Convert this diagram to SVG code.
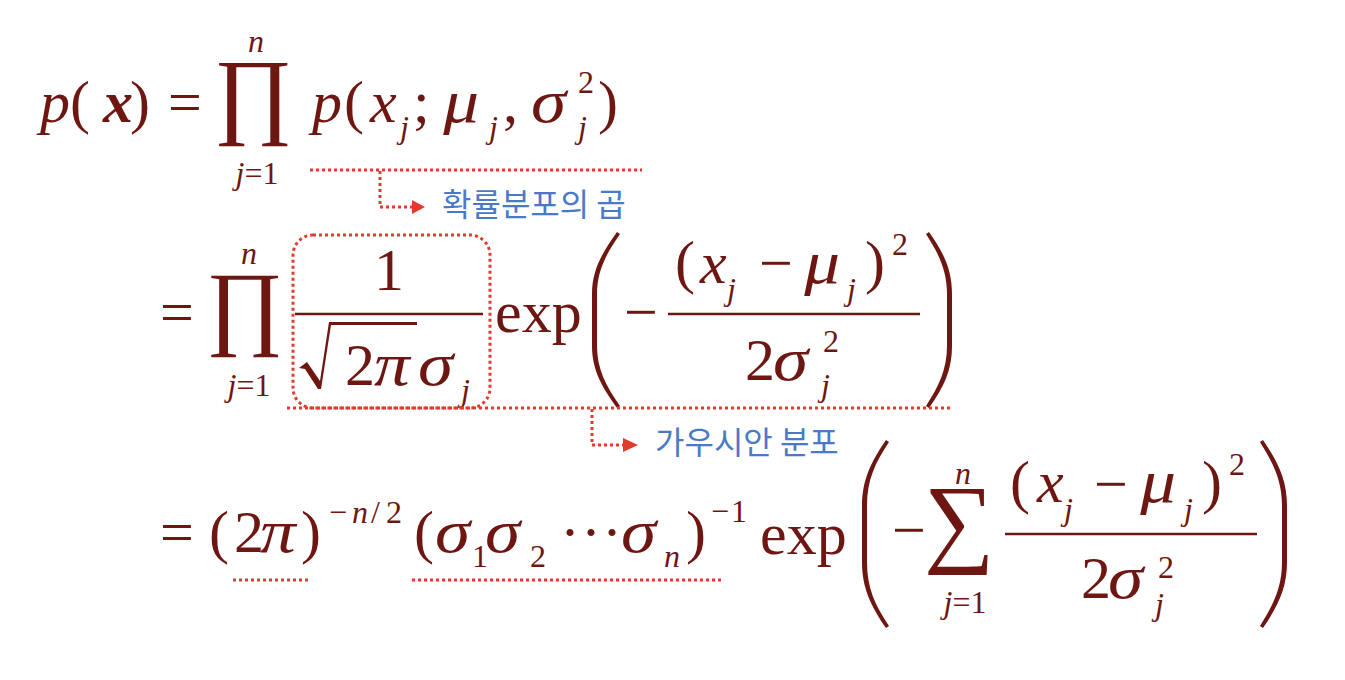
<svg xmlns="http://www.w3.org/2000/svg" width="1345" height="680" viewBox="0 0 1345 680">
<style>
text{font-family:"Liberation Serif","Times New Roman",serif;fill:#6E1612}
.i{font-style:italic}
.b{font-weight:bold}
.f60{font-size:60px}
.f32{font-size:32px}
.g{font-size:62px;font-style:italic;transform-box:fill-box;transform-origin:0 0;transform:scaleX(1.15)}
.ko{font-family:"Noto Sans CJK KR","Noto Sans",sans-serif;font-size:32px;fill:#4A7AC6}
.dl{fill:none;stroke:#E23B2E;stroke-width:3;stroke-dasharray:3 3}
.bar{stroke:#6E1612;stroke-width:2.5}
.sh{fill:#6E1612}
.ah{fill:#E23B2E}
</style>
<rect width="1345" height="680" fill="#ffffff"/>
<g id="line1">
<text class="f60 i" x="40" y="122">p</text>
<text class="f60" x="70" y="122">(</text>
<text class="f60 i b" x="103" y="122">x</text>
<text class="f60" x="130" y="122">)</text>
<text class="f60" x="168" y="122">=</text>
<text style="font-size:96px" x="214" y="126">∏</text>
<text class="f32 i" x="248" y="52">n</text>
<text class="f32" x="257" y="184" text-anchor="middle"><tspan class="i">j</tspan>=1</text>
<text class="f60 i" x="312" y="122">p</text>
<text class="f60" x="344" y="122">(</text>
<text class="f60 i" x="370" y="122">x</text>
<text class="f32 i" x="400" y="138">j</text>
<text class="f60" x="413" y="122">;</text>
<text class="g" x="443" y="122">μ</text>
<text class="f32 i" x="489" y="138">j</text>
<text class="f60" x="503" y="122">,</text>
<text class="g" x="531" y="122">σ</text>
<text class="f32" x="578" y="93">2</text>
<text class="f32 i" x="578" y="138">j</text>
<text class="f60" x="598" y="122">)</text>
</g>
<g id="line2">
<text class="f60" x="160" y="332">=</text>
<text style="font-size:94px" x="206" y="337">∏</text>
<text class="f32 i" x="241" y="264">n</text>
<text class="f32" x="249" y="396" text-anchor="middle"><tspan class="i">j</tspan>=1</text>
<text class="f60" x="389" y="290" text-anchor="middle">1</text>
<line class="bar" x1="295" y1="314" x2="483" y2="314"/>
<path class="sh" d="M299,368 L307,362 L320,381 L329,322 L417,322 L417,325 L331,325 L321,389 L318,389 L305,369 Z"/>
<text class="f60" x="345" y="385">2</text>
<text class="g" x="374" y="385">π</text>
<text class="g" x="418" y="385">σ</text>
<text class="f32 i" x="461" y="401">j</text>
<text class="f60" x="495" y="332">exp</text>
<path class="sh" d="M617,232 C602,253 592,270 592,294 L592,346 C592,370 602,387 617,408 L620,406 C606,386 597,369 597,346 L597,294 C597,271 606,254 620,234 Z"/>
<text class="f60" x="624" y="332">−</text>
<text class="f60" x="675" y="282">(</text>
<text class="f60 i" x="700" y="283">x</text>
<text class="f32 i" x="727" y="300">j</text>
<text class="f60" x="759" y="283">−</text>
<text class="g" x="804" y="283">μ</text>
<text class="f32 i" x="847" y="300">j</text>
<text class="f60" x="865" y="282">)</text>
<text class="f32" x="892" y="255">2</text>
<line class="bar" x1="668" y1="314" x2="920" y2="314"/>
<text class="f60" x="745" y="380">2</text>
<text class="g" x="773" y="380">σ</text>
<text class="f32" x="823" y="352">2</text>
<text class="f32 i" x="821" y="396">j</text>
<path class="sh" d="M929,232 C944,253 952,270 952,294 L952,346 C952,370 944,387 929,408 L926,406 C939,386 947,369 947,346 L947,294 C947,271 939,254 926,234 Z"/>
</g>
<g id="line3">
<text class="f60" x="160" y="552">=</text>
<text class="f60" x="209" y="552">(</text>
<text class="f60" x="234" y="552">2</text>
<text class="g" x="260" y="552">π</text>
<text class="f60" x="301" y="552">)</text>
<text class="f32" x="329" y="523">−</text>
<text class="f32 i" x="352" y="523">n</text>
<text class="f32" x="371" y="523">/</text>
<text class="f32" x="386" y="523">2</text>
<text class="f60" x="414" y="552">(</text>
<text class="g" x="435" y="552">σ</text>
<text class="f32" x="472" y="567">1</text>
<text class="g" x="485" y="552">σ</text>
<text class="f32" x="530" y="567">2</text>
<text class="f60" y="552"><tspan x="560">·</tspan><tspan x="581">·</tspan><tspan x="602">·</tspan></text>
<text class="g" x="621" y="552">σ</text>
<text class="f32 i" x="664" y="567">n</text>
<text class="f60" x="686" y="552">)</text>
<text class="f32" x="711" y="522">−</text>
<text class="f32" x="731" y="522">1</text>
<text class="f60" x="760" y="554">exp</text>
<path class="sh" d="M886,440 C871,462 862,480 862,506 L862,562 C862,588 871,606 886,628 L889,626 C875,605 867,588 867,562 L867,506 C867,480 875,463 889,442 Z"/>
<text class="f60" x="892" y="550">−</text>
<text style="font-size:99px" x="924" y="554">∑</text>
<text class="f32 i" x="955" y="484">n</text>
<text class="f32" x="965" y="613" text-anchor="middle"><tspan class="i">j</tspan>=1</text>
<text class="f60" x="1010" y="502">(</text>
<text class="f60 i" x="1037" y="502">x</text>
<text class="f32 i" x="1064" y="520">j</text>
<text class="f60" x="1094" y="504">−</text>
<text class="g" x="1140" y="502">μ</text>
<text class="f32 i" x="1184" y="520">j</text>
<text class="f60" x="1202" y="502">)</text>
<text class="f32" x="1229" y="475">2</text>
<line class="bar" x1="1005" y1="534" x2="1257" y2="534"/>
<text class="f60" x="1081" y="598">2</text>
<text class="g" x="1108" y="598">σ</text>
<text class="f32" x="1158" y="578">2</text>
<text class="f32 i" x="1155" y="615">j</text>
<path class="sh" d="M1263,440 C1278,462 1287,480 1287,506 L1287,562 C1287,588 1278,606 1263,628 L1260,626 C1273,605 1282,588 1282,562 L1282,506 C1282,480 1273,463 1260,442 Z"/>
</g>
<g id="box-gaussian-coef">
<rect class="dl" x="293" y="235" width="197" height="173" rx="20" ry="20"/>
</g>
<g id="label-product">
<text class="ko" x="442" y="216">확률분포의 곱</text>
</g>
<g id="label-gaussian">
<text class="ko" x="655" y="454">가우시안 분포</text>
</g>
<g id="connectors">
<line class="dl" x1="310" y1="170" x2="642" y2="170"/>
<polyline class="dl" points="380,171 380,207 412,207"/>
<polygon class="ah" points="412,200 425,207 412,214"/>
<line class="dl" x1="287" y1="408" x2="952" y2="408"/>
<polyline class="dl" points="592,409 592,445 623,445"/>
<polygon class="ah" points="623,438 638,445 623,452"/>
<line class="dl" x1="233" y1="580" x2="310" y2="580"/>
<line class="dl" x1="412" y1="580" x2="723" y2="580"/>
</g>
</svg>
